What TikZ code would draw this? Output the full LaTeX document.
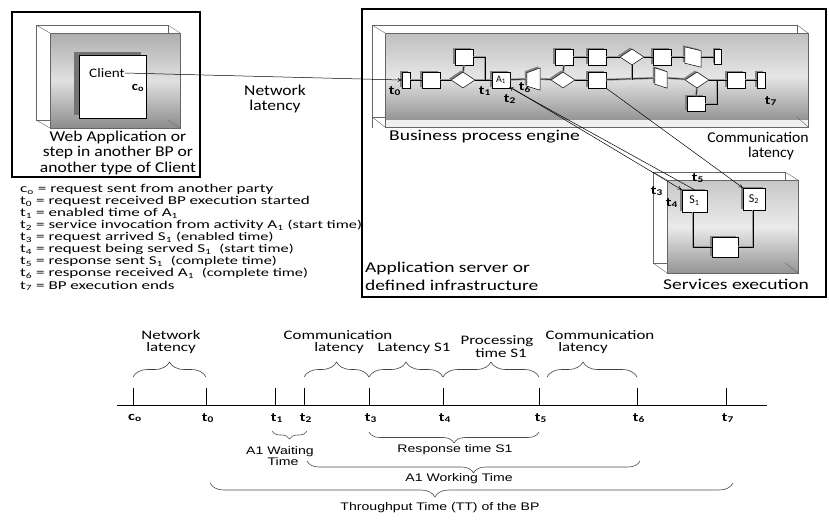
\documentclass[tikz,border=0pt]{standalone}
\usepackage{fontspec}
\setmainfont{Carlito}
\newfontfamily\lsans{Liberation Sans}
\usetikzlibrary{shapes.geometric,decorations.pathreplacing,shadows,arrows.meta}
\newcommand\sxa[1]{\scalebox{1.3}[1]{#1}}
\newcommand\sxb[1]{\scalebox{1.17}[1]{#1}}
\newcommand\sxc[1]{\scalebox{1.42}[1]{#1}}
\newcommand\sxd[1]{\scalebox{1.28}[1]{#1}}
\newcommand\sxe[1]{\scalebox{1.05}[1]{#1}}
\tikzset{
  el/.style={draw, fill=white, line width=0.5pt, inner sep=0pt,
    drop shadow={shadow xshift=-2pt, shadow yshift=1.5pt, fill=black!50, opacity=1}},
  sq/.style={el, minimum width=18pt, minimum height=16pt},
  nar/.style={el, minimum width=8pt, minimum height=16pt},
  dia/.style={el, diamond, minimum width=24pt, minimum height=16pt},
  ghost/.style={inner sep=0pt, minimum width=#1},
  conn/.style={line width=0.5pt, preaction={draw=black!40, line width=2.2pt}},
  lbl/.style={inner sep=0pt, font=\fontsize{12.5}{13}\selectfont\bfseries},
  big/.style={inner sep=0pt, font=\fontsize{15}{15.5}\selectfont},
  leg/.style={inner sep=0pt, anchor=west, font=\fontsize{12}{12}\selectfont},
  tlt/.style={inner sep=0pt, font=\fontsize{13}{13}\selectfont},
  bott/.style={inner sep=0pt, font=\lsans\fontsize{11}{11.5}\selectfont},
  tbrace/.style={decorate, decoration={brace, amplitude=#1}, black!75, line width=0.6pt},
  bbrace/.style={decorate, decoration={brace, mirror, amplitude=#1}, black!70, line width=0.6pt},
  thick box/.style={draw, line width=2.2pt},
  arr/.style={line width=0.5pt, -{To[length=4pt,width=4pt]}},
  glassline/.style={black!60, line width=0.4pt},
}
\begin{document}
\begin{tikzpicture}[x=1pt,y=-1pt]
\useasboundingbox (0,0) rectangle (829,520);

% ---------------- left box: client ----------------
\draw[thick box] (12,12) rectangle (200,177);
\draw[glassline] (36,25) rectangle (168,120);
\shade[top color=black!32, bottom color=black!45, middle color=black!12] (50,33) rectangle (180,128);
\draw[glassline] (50,33) rectangle (180,128);
\draw[glassline] (36,25) -- (50,33) (168,25) -- (180,33) (36,120) -- (50,128) (168,120) -- (180,128);
\node[draw, fill=white, line width=0.5pt, minimum width=67pt, minimum height=63pt,
  drop shadow={shadow xshift=-5pt, shadow yshift=3pt, fill=black!55, opacity=1}] (client) at (112.5,86.5) {};
\node[inner sep=0pt, font=\fontsize{13}{13}\selectfont] (clienttxt) at (107,73) {\sxb{Client}};
\node[lbl] (lc0) at (138,88) {\sxb{c\textsubscript{o}}};
\node[big] (web1) at (118,137) {\sxb{Web Application or}};
\node[big] (web2) at (118,152.5) {\sxb{step in another BP or}};
\node[big] (web3) at (118,168) {\sxb{another type of Client}};
\node[big] (net1) at (275,90) {\sxb{Network}};
\node[big] (net2) at (275,106) {\sxb{latency}};

% ---------------- right box ----------------
\draw[thick box] (362,9) rectangle (826,297);

% BP engine glass box
\draw[glassline] (372,25) rectangle (797,117);
\shade[top color=black!25, bottom color=black!42, middle color=black!10] (385,33) rectangle (808,120);
\fill[black!6] (385,120) rectangle (808,127);
\draw[glassline] (385,33) rectangle (808,127);
\draw[glassline] (372,25) -- (385,33) (797,25) -- (808,33) (372,117) -- (385,127) (797,117) -- (808,127);
\draw[glassline] (372,25) -- (372,128);

% process elements
\node[nar] (r0) at (406,80) {};
\node[sq] (s1) at (431,80) {};
\node[dia] (d1) at (463,80) {};
\node[sq] (su1) at (464,57) {};
\node[sq, font=\fontsize{10}{11}\selectfont] (a1) at (501,80) {A\textsubscript{1}};
\node[ghost=13pt, minimum height=22pt] (p1) at (533.5,79) {};
\node[dia] (d2) at (563,80) {};
\node[sq] (su2) at (564,57) {};
\node[sq] (s3) at (597,80) {};
\node[sq] (su3) at (597,57) {};
\node[dia] (du) at (632,57) {};
\node[sq] (su4) at (662,57) {};
\node[ghost=16pt, minimum height=20pt] (pu) at (693,57) {};
\node[el, minimum width=7pt, minimum height=15pt] (ru) at (718,57) {};
\node[ghost=12pt, minimum height=20pt] (p2) at (661,78) {};
\node[dia] (d3) at (697,80) {};
\node[sq, minimum height=15pt] (sd) at (696,104) {};
\node[sq] (s5) at (736,80) {};
\node[nar] (r7) at (761,80) {};

% quadrilaterals
\fill[black!50] ([xshift=-2pt,yshift=-3.5pt]p1.north west) -- ([xshift=-2pt,yshift=1.5pt]p1.north east) -- ([xshift=-2pt,yshift=1.5pt]p1.south east) -- ([xshift=-2pt,yshift=5.5pt]p1.south west) -- cycle;
\draw[fill=white, line width=0.5pt] ([yshift=-5pt]p1.north west) -- (p1.north east) -- (p1.south east) -- ([yshift=4pt]p1.south west) -- cycle;
\fill[black!50] ([xshift=-2pt,yshift=1.5pt]pu.north west) -- ([xshift=-2pt,yshift=-2.5pt]pu.north east) -- ([xshift=-2pt,yshift=1.5pt]pu.south east) -- ([xshift=-2pt,yshift=5.5pt]pu.south west) -- cycle;
\draw[fill=white, line width=0.5pt] (pu.north west) -- ([yshift=-4pt]pu.north east) -- (pu.south east) -- ([yshift=4pt]pu.south west) -- cycle;
\fill[black!50] ([xshift=-2pt,yshift=1.5pt]p2.north west) -- ([xshift=-2pt,yshift=-2.5pt]p2.north east) -- ([xshift=-2pt,yshift=1.5pt]p2.south east) -- ([xshift=-2pt,yshift=5.5pt]p2.south west) -- cycle;
\draw[fill=white, line width=0.5pt] (p2.north west) -- ([yshift=-4pt]p2.north east) -- (p2.south east) -- ([yshift=4pt]p2.south west) -- cycle;

% connectors in BP
\coordinate (j1) at (485,57);
\coordinate (j1b) at (485,80);
\coordinate (j2) at (632,80);
\coordinate (j3) at (717,104);
\coordinate (j3b) at (717,80);
\draw[conn] (r0) -- (s1);
\draw[conn] (s1) -- (d1);
\draw[conn] (d1) -- (a1);
\draw[conn] (d1.north) -- (su1.south);
\draw[conn] (su1.east) -- (j1) -- (j1b);
\draw[conn] (a1) -- (p1.west);
\draw[conn] (p1.east) -- (d2);
\draw[conn] (d2.north) -- (su2.south);
\draw[conn] (d2) -- (s3);
\draw[conn] (s3) -- (p2.west);
\draw[conn] (du.south) -- (j2);
\draw[conn] (su2) -- (su3);
\draw[conn] (su3) -- (du);
\draw[conn] (du) -- (su4);
\draw[conn] (su4) -- (pu.west);
\draw[conn] (pu.east) -- (ru);
\draw[conn] (p2.east) -- (d3);
\draw[conn] (d3.south) -- (sd.north);
\draw[conn] (sd.east) -- (j3) -- (j3b);
\draw[conn] (d3) -- (s5);
\draw[conn] (s5) -- (r7);

% time labels in BP
\node[lbl] (bt0) at (395,91) {\sxa{t\textsubscript{0}}};
\node[lbl] (bt1) at (485,91) {\sxa{t\textsubscript{1}}};
\node[lbl] (bt2) at (510,99) {\sxa{t\textsubscript{2}}};
\node[lbl] (bt6) at (525,88) {\sxa{t\textsubscript{6}}};
\node[lbl] (bt7) at (771,101) {\sxa{t\textsubscript{7}}};

\node[big, anchor=west] (bpe) at (389,137) {\sxa{Business process engine}};
\node[big] (comm1) at (758,137) {\sxe{Communication}};
\node[big] (comm2) at (771,153) {\sxe{latency}};

% Services glass box
\draw[glassline] (653,172) rectangle (785,263);
\shade[top color=black!22, bottom color=black!42, middle color=black!8] (667,180) rectangle (798,273);
\draw[glassline] (667,180) rectangle (798,273);
\draw[glassline] (653,172) -- (667,180) (785,172) -- (798,180) (653,263) -- (667,273) (785,263) -- (798,273);
\node[el, minimum width=25pt, minimum height=22pt, font=\fontsize{12}{12}\selectfont] (sv1) at (694.5,201) {S\textsubscript{1}};
\node[el, minimum width=22pt, minimum height=22pt, font=\fontsize{12}{12}\selectfont] (sv2) at (754,199) {S\textsubscript{2}};
\node[el, minimum width=26pt, minimum height=20pt] (sv3) at (725,247) {};
\coordinate (k1) at (693,247);
\coordinate (k2) at (753,247);
\draw[conn] (sv1.south -| k1) -- (k1) -- (sv3.west);
\draw[conn] (sv2.south -| k2) -- (k2) -- (sv3.east);
\node[lbl] (st3) at (657,191) {\sxa{t\textsubscript{3}}};
\node[lbl] (st4) at (672,203) {\sxa{t\textsubscript{4}}};
\node[lbl] (st5) at (698,178) {\sxa{t\textsubscript{5}}};
\node[big] (servexec) at (736,284) {\sxa{Services execution}};
\node[big, anchor=west] (app1) at (365,268) {\sxa{Application server or}};
\node[big, anchor=west] (app2) at (365,285) {\sxa{defined infrastructure}};

% messages
\draw[arr] (clienttxt.east) -- (r0.west);
\draw[arr] ([xshift=2pt]a1.south east) -- (sv1.north west);
\draw[arr] (sv1.north) -- ([xshift=-1pt,yshift=1pt]a1.south east);
\draw[arr] (s3.south east) -- (sv2.north west);

% ---------------- legend ----------------
\node[leg] (g0) at (20,189) {\sxc{c\textsubscript{o} = request sent from another party}};
\node[leg] (g1) at (20,201.1) {\sxc{t\textsubscript{0} = request received BP execution started}};
\node[leg] (g2) at (20,213.2) {\sxc{t\textsubscript{1} = enabled time of A\textsubscript{1}}};
\node[leg] (g3) at (20,225.3) {\sxc{t\textsubscript{2} = service invocation from activity A\textsubscript{1} {\fontsize{11.5}{12}\selectfont(start time)}}};
\node[leg] (g4) at (20,237.4) {\sxc{t\textsubscript{3} = request arrived S\textsubscript{1} {\fontsize{11.5}{12}\selectfont(enabled time)}}};
\node[leg] (g5) at (20,249.5) {\sxc{t\textsubscript{4} = request being served S\textsubscript{1}~~{\fontsize{11.5}{12}\selectfont(start time)}}};
\node[leg] (g6) at (20,261.6) {\sxc{t\textsubscript{5} = response sent S\textsubscript{1}~~{\fontsize{11.5}{12}\selectfont(complete time)}}};
\node[leg] (g7) at (20,273.7) {\sxc{t\textsubscript{6} = response received A\textsubscript{1}~~{\fontsize{11.5}{12}\selectfont(complete time)}}};
\node[leg] (g8) at (20,285.8) {\sxc{t\textsubscript{7} = BP execution ends}};

% ---------------- timeline ----------------
\coordinate (axL) at (117,405);
\coordinate (axR) at (767,405);
\draw[line width=0.6pt] (axL) -- (axR);
\foreach \n/\x in {c0/133, t0/206, t1/275, t2/304, t3/369, t4/443, t5/539, t6/637, t7/726}{
  \coordinate (\n) at (\x,405);
  \coordinate (\n top) at (\x,388);
  \draw[line width=0.6pt] (\n top) -- (\n);
}
\node[lbl] (lbc0) at (135,418) {\sxa{c\textsubscript{o}}};
\node[lbl] (lbt0) at (208,418) {\sxa{t\textsubscript{0}}};
\node[lbl] (lbt1) at (277,418) {\sxa{t\textsubscript{1}}};
\node[lbl] (lbt2) at (306,418) {\sxa{t\textsubscript{2}}};
\node[lbl] (lbt3) at (371,418) {\sxa{t\textsubscript{3}}};
\node[lbl] (lbt4) at (445,418) {\sxa{t\textsubscript{4}}};
\node[lbl] (lbt5) at (541,418) {\sxa{t\textsubscript{5}}};
\node[lbl] (lbt6) at (639,418) {\sxa{t\textsubscript{6}}};
\node[lbl] (lbt7) at (728,418) {\sxa{t\textsubscript{7}}};

% braces above
\coordinate (b1a) at (133,377); \coordinate (b1b) at (206,377);
\coordinate (b2a) at (304,377); \coordinate (b2b) at (369,377);
\coordinate (b3a) at (369,377); \coordinate (b3b) at (443,377);
\coordinate (b4a) at (443,377); \coordinate (b4b) at (539,377);
\coordinate (b5a) at (547,377); \coordinate (b5b) at (637,377);
\draw[tbrace=15pt] (b1a) -- (b1b);
\draw[tbrace=15pt] (b2a) -- (b2b);
\draw[tbrace=15pt] (b3a) -- (b3b);
\draw[tbrace=15pt] (b4a) -- (b4b);
\draw[tbrace=15pt, decoration={aspect=0.4}] (b5a) -- (b5b);
\node[tlt] (tnet1) at (171,335) {\sxa{Network}};
\node[tlt] (tnet2) at (171,348) {\sxa{latency}};
\node[tlt] (tcom1) at (338,335) {\sxa{Communication}};
\node[tlt] (tcom2) at (339,348) {\sxa{latency}};
\node[tlt] (tlat) at (414,348) {\sxa{Latency S1}};
\node[tlt] (tpro1) at (497,341) {\sxa{Processing}};
\node[tlt] (tpro2) at (501,353) {\sxa{time S1}};
\node[tlt] (tcm21) at (600,335) {\sxa{Communication}};
\node[tlt] (tcm22) at (583,348) {\sxa{latency}};

% braces below
\coordinate (c1a) at (272,431); \coordinate (c1b) at (307,431);
\coordinate (c2a) at (369,432); \coordinate (c2b) at (539,432);
\coordinate (c3a) at (307,461); \coordinate (c3b) at (640,461);
\coordinate (c4a) at (210,483); \coordinate (c4b) at (733,483);
\draw[bbrace=8pt] (c1a) -- (c1b);
\draw[bbrace=11pt] (c2a) -- (c2b);
\draw[bbrace=12pt] (c3a) -- (c3b);
\draw[bbrace=14pt, decoration={aspect=0.43}] (c4a) -- (c4b);
\node[bott] (twt1) at (280,452) {\sxd{A1 Waiting}};
\node[bott] (twt2) at (283,462) {\sxd{Time}};
\node[bott] (tresp) at (455,450) {\sxd{Response time S1}};
\node[bott] (twork) at (459,479) {\sxd{A1 Working Time}};
\node[bott] (ttp) at (440,508) {\sxd{Throughput Time (TT) of the BP}};
\end{tikzpicture}
\end{document}
